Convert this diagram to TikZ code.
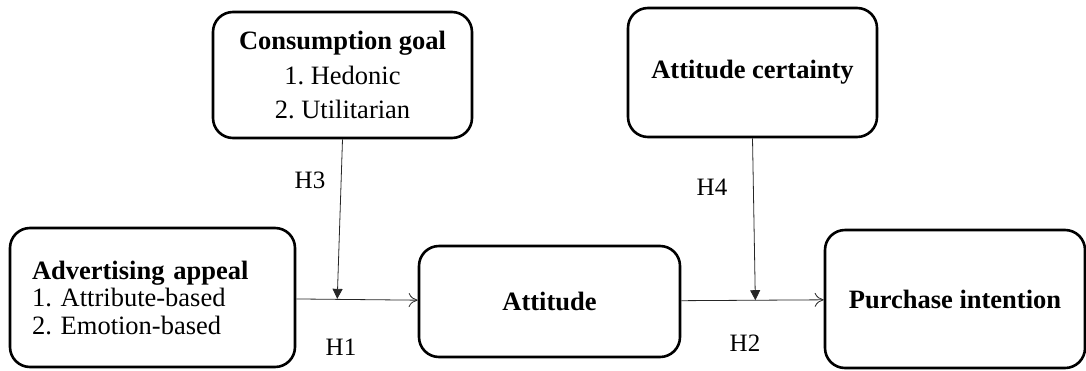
\documentclass[tikz,border=0pt]{standalone}
\usepackage{fontspec}
\setmainfont{Liberation Serif}
\usetikzlibrary{arrows.meta,calc}
\frenchspacing
\begin{document}
\begin{tikzpicture}[x=1pt,y=-1pt,
  box/.style={draw=black, line width=2.6pt, rounded corners=20pt, inner sep=0pt, font=\fontsize{26.5}{27.5}\selectfont},
  lbl/.style={inner sep=0pt, font=\fontsize{25}{27.5}\selectfont},
  conn/.style={draw=black!85, line width=0.8pt, -{To[length=9pt,width=14pt]}},
  modr/.style={draw=black!85, line width=0.8pt, -{Triangle[length=10pt,width=10pt]}}
]
\useasboundingbox (0,0) rectangle (1086,370);
\node[box, minimum width=285pt, minimum height=139pt, text width=241pt, align=left] (adv) at (152.5,297.5)
  {\textbf{Advertising appeal}\\1. Attribute-based\\2. Emotion-based};
\node[box, minimum width=259pt, minimum height=126pt, align=center, font=\fontsize{26.5}{34.5}\selectfont] (cg) at (342.5,75)
  {\textbf{Consumption goal}\\1. Hedonic\\2. Utilitarian};
\node[box, minimum width=261pt, minimum height=111pt] (att) at (549.5,301.5) {\textbf{Attitude}};
\node[box, minimum width=249pt, minimum height=129pt] (ac) at (752.5,72.5) {\textbf{Attitude certainty}};
\node[box, minimum width=260pt, minimum height=138pt] (pi) at (955,299) {\textbf{Purchase intention}};
\draw[conn] (adv) -- (att);
\draw[conn] (att) -- (pi);
\coordinate (m1) at ($(adv.east)!(cg.south)!(att.west)$);
\coordinate (m2) at ($(att.east)!(ac.south)!(pi.west)$);
\draw[modr] (cg.south) -- (m1);
\draw[modr] (ac.south) -- (m2);
\node[lbl] (h3) at (310,180) {H3};
\node[lbl] (h1) at (341,347) {H1};
\node[lbl] (h4) at (712,187) {H4};
\node[lbl] (h2) at (745,343) {H2};
\end{tikzpicture}
\end{document}
